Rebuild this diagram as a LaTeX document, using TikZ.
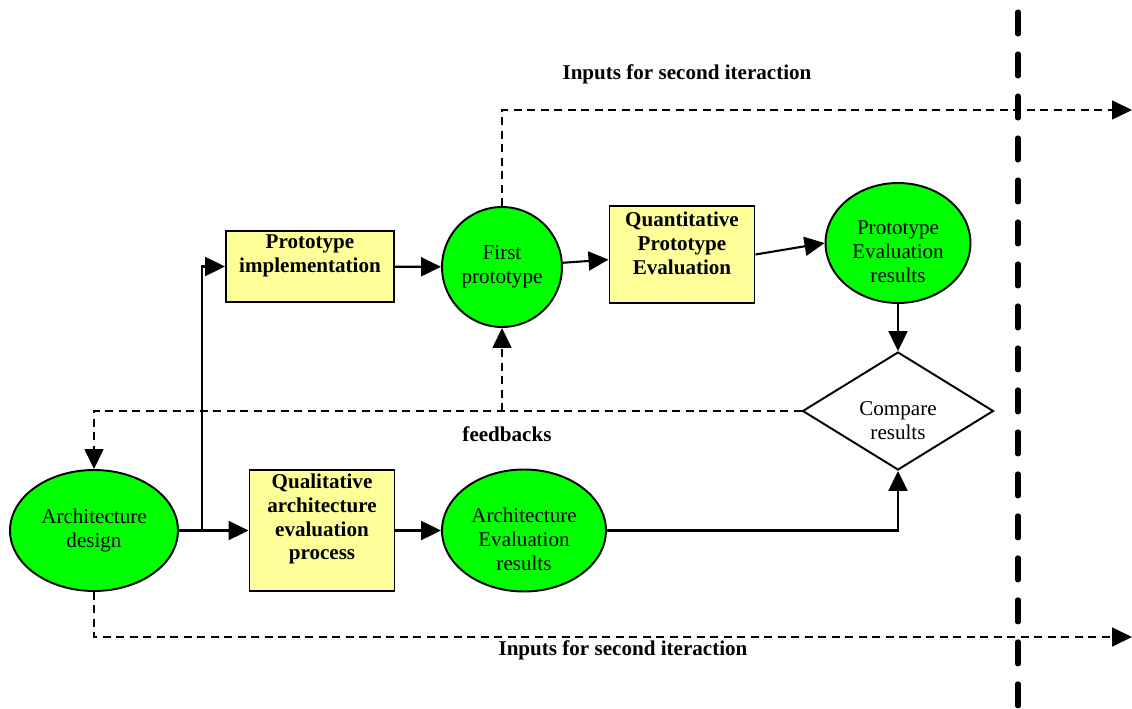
\documentclass[tikz,border=0pt]{standalone}
\usepackage{fontspec}
\setmainfont{Liberation Serif}
\usetikzlibrary{shapes.geometric}
\usetikzlibrary{arrows.meta}
\definecolor{resgreen}{HTML}{00FF00}
\definecolor{boxyellow}{HTML}{FFFF99}
\tikzset{>={Triangle[length=0.4cm,width=0.38cm]}}
\tikzset{
	every node/.style={font=\fontsize{12}{13.6}\selectfont},
	% text set inside the shapes
	intext/.style={align=center,inner sep=0pt},
	boldtext/.style={align=center,inner sep=0pt,font=\fontsize{12}{13.6}\selectfont\bfseries},
	% shapes
	procbox/.style={rectangle,draw,line width=1.1pt,fill=boxyellow,inner sep=0pt},
	resnode/.style={ellipse,draw,line width=1.1pt,fill=resgreen,inner sep=0pt},
	decbox/.style={diamond,draw,line width=1.1pt,fill=white,inner sep=0pt},
	% lines
	flow/.style={line width=1.2pt,->},
	fbline/.style={line width=0.9pt,dash pattern=on 0.16cm off 0.11cm},
	divider/.style={line width=2.9pt,line cap=round,dash pattern=on 0.44cm off 0.4cm},
	caption/.style={font=\fontsize{12}{13.6}\selectfont\bfseries},
}

\begin{document}
\begin{tikzpicture}[x=0.02cm,y=-0.02cm]
\useasboundingbox (0,0) rectangle (1132,709);
% the iteration border
\draw[divider] (1018,12) -- (1018,709);
% the nodes
\node[resnode,minimum width=3.36cm,minimum height=2.42cm,label={[intext]center:{Architecture\\design}}] (ad) at (94,530.5) {};
\node[procbox,minimum width=3.36cm,minimum height=1.42cm,label={[boldtext,yshift=6pt]center:{Prototype\\implementation}}] (pi) at (310,266.5) {};
\node[resnode,circle,minimum size=2.4cm,label={[intext]center:{First\\prototype}}] (fp) at (502,267) {};
\node[procbox,minimum width=2.9cm,minimum height=1.94cm,label={[boldtext,yshift=6.5pt]center:{Quantitative\\Prototype\\Evaluation}}] (qpe) at (682,254.5) {};
\node[resnode,minimum width=2.9cm,minimum height=2.4cm,label={[intext,yshift=-5pt]center:{Prototype\\Evaluation\\results}}] (per) at (898,243) {};
\node[decbox,minimum width=3.82cm,minimum height=2.36cm,label={[intext,yshift=-5.5pt]center:{Compare\\results}}] (cmp) at (898,411) {};
\node[procbox,minimum width=2.9cm,minimum height=2.42cm,label={[boldtext,yshift=6.5pt]center:{Qualitative\\architecture\\evaluation\\process}}] (qae) at (322,530.5) {};
\node[resnode,minimum width=3.28cm,minimum height=2.44cm,label={[intext,yshift=-5pt]center:{Architecture\\Evaluation\\results}}] (aer) at (524,530.5) {};
% the captions
\node[caption] (topcap) at (687,74) {Inputs for second iteraction};
\node[caption] (botcap) at (623,650) {Inputs for second iteraction};
\node[caption] (fbcap) at (507,434) {feedbacks};
\coordinate (split) at (202,530.5);
\coordinate (topend) at (1132,110);
\coordinate (botend) at (1132,637);
% main flow
\draw[flow] (ad.east) -- (qae.west);
\draw[flow] (split) |- (pi.west);
\draw[flow] (pi) -- (fp);
\draw[flow] (fp) -- (qpe);
\draw[flow] (qpe.east) -- (per.west);
\draw[flow] (per) -- (cmp);
\draw[flow] (qae) -- (aer);
\draw[flow] (aer.east) -| (cmp.south);
% feedbacks and second iteration
\draw[fbline,->] (cmp.west) -| (ad.north);
\draw[fbline,->] (fp.south |- cmp.west) -- (fp.south);
\draw[fbline,->] (fp.north) |- (topend);
\draw[fbline,->] (ad.south) |- (botend);
\end{tikzpicture}
\end{document}
